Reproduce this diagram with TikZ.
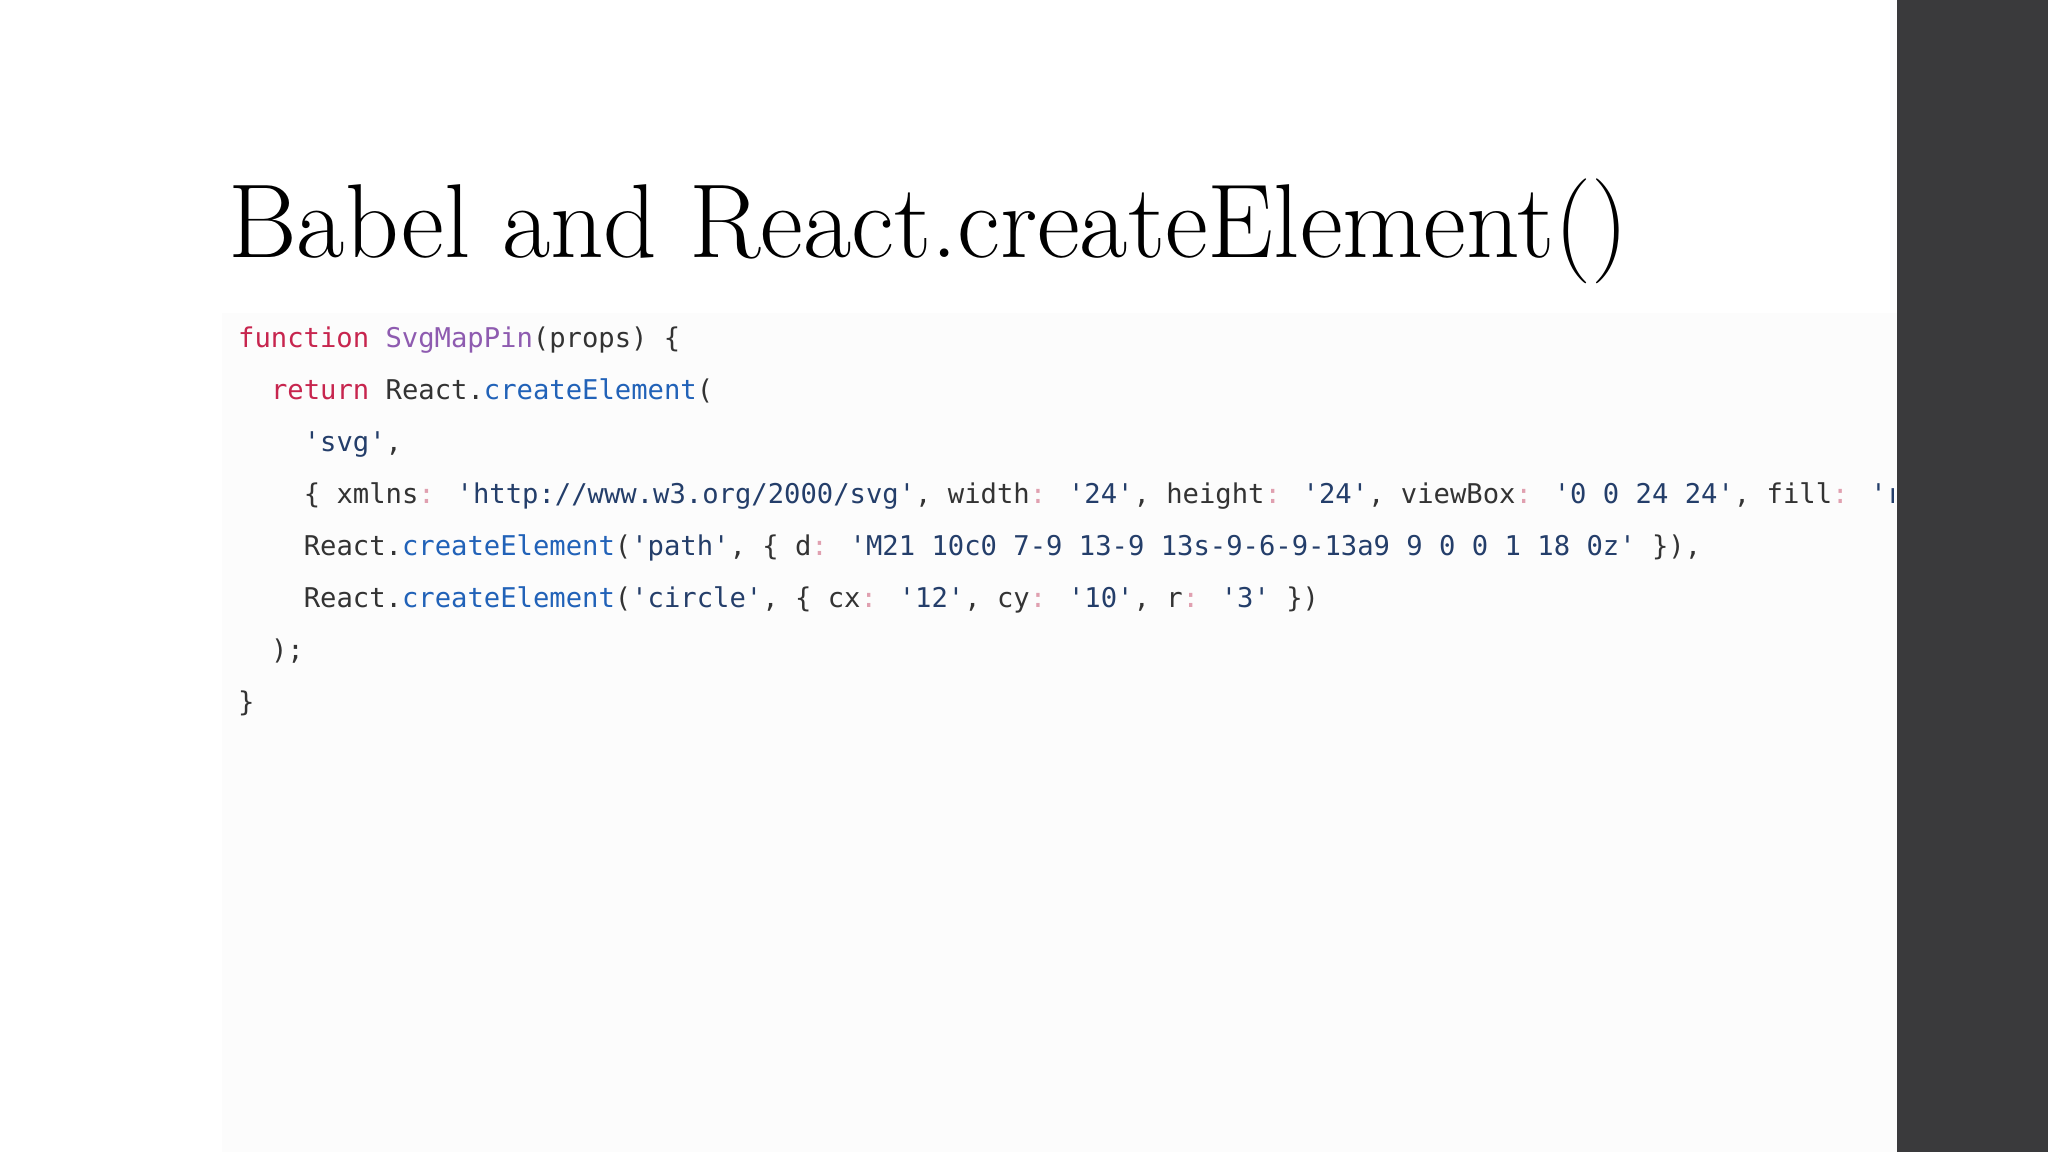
\documentclass[tikz,border=0pt]{standalone}
\usepackage{fontspec}
\newfontfamily\codefont{DejaVu Sans Mono}
\definecolor{kw}{HTML}{C7254E}
\definecolor{fn}{HTML}{8E5BB0}
\definecolor{mb}{HTML}{2162B8}
\definecolor{st}{HTML}{243E6A}
\definecolor{cl}{HTML}{E0A0B0}
\definecolor{tx}{HTML}{333333}
\definecolor{bar}{HTML}{3A3A3C}
\definecolor{codebg}{HTML}{FCFCFC}
\newcommand\K[1]{\textcolor{kw}{#1}}
\newcommand\F[1]{\textcolor{fn}{#1}}
\newcommand\B[1]{\textcolor{mb}{#1}}
\newcommand\Sq[1]{\textcolor{st}{\char39 #1\char39}}
\newcommand\C{\textcolor{cl}{:}}
\begin{document}
\begin{tikzpicture}[x=1pt,y=-1pt,
  codeline/.style={anchor=base west,inner sep=0pt,font=\codefont\fontsize{27.2}{30}\selectfont,text=tx}]
\useasboundingbox (0,0) rectangle (2048,1152);
\fill[white] (0,0) rectangle (2048,1152);
\fill[codebg] (222,313) rectangle (1897,1152);
\fill[bar] (1897,0) rectangle (2048,1152);
\node[anchor=base west,inner sep=0pt,font=\fontsize{105}{112}\selectfont,text=black] (title) at (228,257) {Babel and React.createElement()};
\begin{scope}
\clip (222,313) rectangle (1893,1152);
\node[codeline] (l1) at (238,347) {\K{function} \F{SvgMapPin}(props) \{};
\node[codeline] (l2) at (270.8,399) {\K{return} React.\B{createElement}(};
\node[codeline] (l3) at (303.6,451) {\Sq{svg},};
\node[codeline] (l4) at (303.6,503) {\{ xmlns\C{} \Sq{http://www.w3.org/2000/svg}, width\C{} \Sq{24}, height\C{} \Sq{24}, viewBox\C{} \Sq{0 0 24 24}, fill\C{} \Sq{red} \},};
\node[codeline] (l5) at (303.6,555) {React.\B{createElement}(\Sq{path}, \{ d\C{} \Sq{M21 10c0 7-9 13-9 13s-9-6-9-13a9 9 0 0 1 18 0z} \}),};
\node[codeline] (l6) at (303.6,607) {React.\B{createElement}(\Sq{circle}, \{ cx\C{} \Sq{12}, cy\C{} \Sq{10}, r\C{} \Sq{3} \})};
\node[codeline] (l7) at (270.8,659) {);};
\node[codeline] (l8) at (238,711) {\}};
\end{scope}
\end{tikzpicture}
\end{document}
